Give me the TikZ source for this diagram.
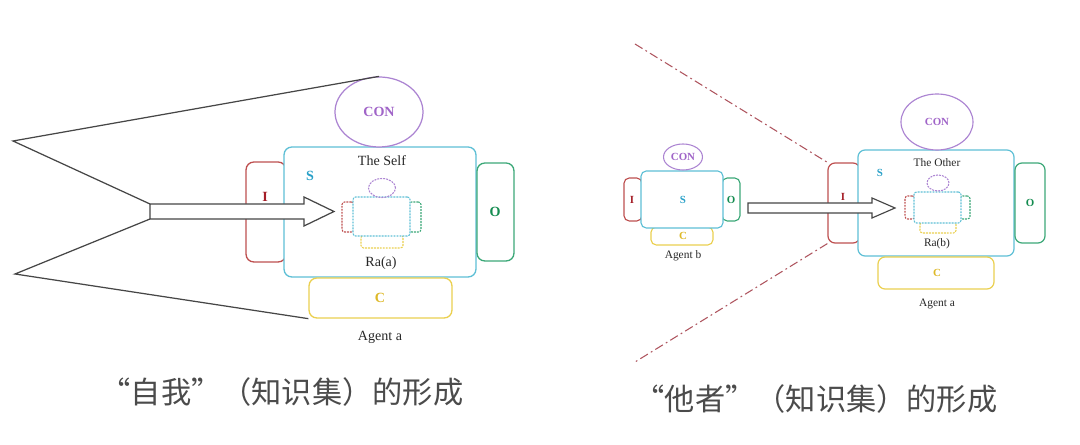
\documentclass[tikz,border=0pt]{standalone}
\usepackage{fontspec}
\setmainfont{Liberation Serif}
\newfontfamily\cjk{Noto Sans CJK SC}
\usetikzlibrary{shapes.geometric,fit}
\definecolor{cyanbox}{RGB}{95,192,214}
\definecolor{cyantxt}{RGB}{40,160,200}
\definecolor{redbox}{RGB}{190,80,80}
\definecolor{redtxt}{RGB}{165,30,40}
\definecolor{greenbox}{RGB}{60,168,120}
\definecolor{greentxt}{RGB}{20,140,80}
\definecolor{yelbox}{RGB}{235,208,80}
\definecolor{yeltxt}{RGB}{222,185,40}
\definecolor{purbox}{RGB}{172,132,210}
\definecolor{purtxt}{RGB}{160,100,200}
\definecolor{linegray}{RGB}{70,70,70}
\definecolor{txtgray}{RGB}{40,40,40}
\definecolor{capgray}{RGB}{75,75,75}
\definecolor{dashred}{RGB}{175,85,95}
\tikzset{
  bx/.style={draw=#1, line width=0.75pt, rounded corners=4.5pt, inner sep=0pt, fill=white},
  sbx/.style={draw=#1, line width=0.65pt, rounded corners=3pt, inner sep=0pt, fill=white},
  dbx/.style={draw=#1, line width=0.6pt, dash pattern=on 1.1pt off 0.6pt, rounded corners=1.5pt, inner sep=0pt, fill=white},
  conell/.style={ellipse, draw=purbox, line width=0.7pt, inner sep=0pt, fill=white},
  lab/.style={font=\fontsize{8}{9}\selectfont\bfseries, text=#1, inner sep=0pt},
  labs/.style={font=\fontsize{6.2}{7}\selectfont\bfseries, text=#1, inner sep=0pt},
  txt/.style={font=\fontsize{8}{9}\selectfont, text=txtgray, inner sep=0pt},
  txts/.style={font=\fontsize{6.5}{7.5}\selectfont, text=txtgray, inner sep=0pt},
  captxt/.style={font=\cjk\fontsize{17.2}{19}\selectfont, text=capgray, inner sep=0pt},
  bigarrow/.style={draw=linegray, line width=0.7pt, fill=white, line join=miter},
  coneline/.style={draw=linegray, line width=0.7pt},
  dashdot/.style={draw=dashred, line width=0.6pt, dash pattern=on 5pt off 2pt on 1pt off 2pt},
}
\begin{document}
\begin{tikzpicture}[x=0.02cm, y=-0.02cm]
\useasboundingbox[fill=white] (0,0) rectangle (1080,445);

% ================= LEFT: the Self =================
\node[bx=redbox, fit={(246,162)(286,262)}] (Ia) {};
\node[bx=cyanbox, fit={(284,147)(476,277)}] (Sa) {};
\node[bx=greenbox, fit={(477,163)(514,261)}] (Oa) {};
\node[bx=yelbox, fit={(309,278)(452,318)}] (Ca) {};
\node[conell, minimum width={88*0.02cm}, minimum height={70*0.02cm}] (CONa) at (379,112) {};
\node[lab=purtxt] at (CONa.center) {CON};

% inner dashed agent
\node[dbx=redbox, fit={(342,202)(354,232)}] (iIa) {};
\node[dbx=greenbox, fit={(409,202)(421,232)}] (iOa) {};
\node[dbx=yelbox, fit={(361,235)(403,248)}] (iCa) {};
\node[dbx=cyanbox, fit={(353,197)(410,236)}] (iSa) {};
\node[ellipse, draw=purbox, line width=0.6pt, dash pattern=on 1.1pt off 0.6pt, inner sep=0pt,
      minimum width={27*0.02cm}, minimum height={19*0.02cm}] (iCONa) at (382,188) {};

% cone lines
\coordinate (apexTa) at (13,141);
\coordinate (apexBa) at (15,274);
\coordinate (tailTa) at (150,204);
\coordinate (tailBa) at (150,219);
\draw[coneline] (CONa.north) -- (apexTa) -- (tailTa);
\draw[coneline] (tailBa) -- (apexBa) -- (Ca.south west);

% big arrow
\draw[bigarrow] (tailTa) -- (304,204) -- (304,197) -- (334,211.5) -- (304,226) -- (304,219) -- (tailBa) -- cycle;

% labels
\node[txt] (selfT) at (382,161) {The Self};
\node[lab=cyantxt] (Sla) at (310,176) {S};
\node[lab=redtxt] (Ila) at (265,197) {I};
\node[lab=greentxt] (Ola) at (495,212) {O};
\node[lab=yeltxt] (Cla) at (380,298) {C};
\node[txt] (raa) at (381,263) {Ra(a)};
\node[txt] (agA1) at (380,337) {Agent a};

% ================= RIGHT: the Other =================
% dash-dot cone
\coordinate (ddT) at (635,44);
\coordinate (ddB) at (635,362);

% agent b
\node[sbx=redbox, fit={(624,178)(642,221)}] (Ib) {};
\node[sbx=greenbox, fit={(722,178)(740,221)}] (Ob) {};
\node[sbx=yelbox, fit={(651,227)(713,245)}] (Cb) {};
\node[sbx=cyanbox, fit={(641,171)(723,228)}] (Sb) {};
\node[conell, line width=0.6pt, minimum width={39*0.02cm}, minimum height={26*0.02cm}] (CONb) at (683,157) {};
\node[labs=purtxt] at (CONb.center) {CON};
\node[labs=cyantxt] at (683,200) {S};
\node[labs=redtxt] at (632,200) {I};
\node[labs=greentxt] at (731,200) {O};
\node[labs=yeltxt] at (683,236) {C};
\node[txts] at (683,256) {Agent b};

% agent a (big)
\node[bx=redbox, line width=0.7pt, rounded corners=4pt, fit={(828,163)(860,243)}] (Ia2) {};
\node[bx=cyanbox, line width=0.7pt, rounded corners=4pt, fit={(858,150)(1014,256)}] (Sa2) {};
\node[bx=greenbox, line width=0.7pt, rounded corners=4pt, fit={(1015,163)(1045,243)}] (Oa2) {};
\node[bx=yelbox, line width=0.7pt, rounded corners=4pt, fit={(878,257)(994,289)}] (Ca2) {};
\node[conell, line width=0.65pt, minimum width={72*0.02cm}, minimum height={56*0.02cm}] (CONa2) at (937,122) {};
\node[labs=purtxt] at (CONa2.center) {CON};

\draw[dashdot] (ddT) -- (Ia2.north west);
\draw[dashdot] (Ia2.south west) -- (ddB);

% inner dashed agent
\node[dbx=redbox, fit={(905,196)(915,219)}] (iIb) {};
\node[dbx=greenbox, fit={(960,196)(970,219)}] (iOb) {};
\node[dbx=yelbox, fit={(920,222)(956,233)}] (iCb) {};
\node[dbx=cyanbox, fit={(914,192)(961,223)}] (iSb) {};
\node[ellipse, draw=purbox, line width=0.6pt, dash pattern=on 1.1pt off 0.6pt, inner sep=0pt,
      minimum width={22*0.02cm}, minimum height={16*0.02cm}] (iCONb) at (938,183) {};

% arrow
\draw[bigarrow, line width=0.65pt] (748,203) -- (872,203) -- (872,198) -- (895,208) -- (872,218) -- (872,213) -- (748,213) -- cycle;

\node[txts] at (937,163) {The Other};
\node[labs=cyantxt] at (880,173) {S};
\node[labs=redtxt] at (843,197) {I};
\node[labs=greentxt] at (1030,203) {O};
\node[labs=yeltxt] at (937,273) {C};
\node[txts] at (937,244) {Ra(b)};
\node[txts] at (937,304) {Agent a};

% ================= captions =================
\node[captxt] (capL) at (282,392) {“自我”（知识集）的形成};
\node[captxt] (capR) at (816,399) {“他者”（知识集）的形成};
\end{tikzpicture}
\end{document}
